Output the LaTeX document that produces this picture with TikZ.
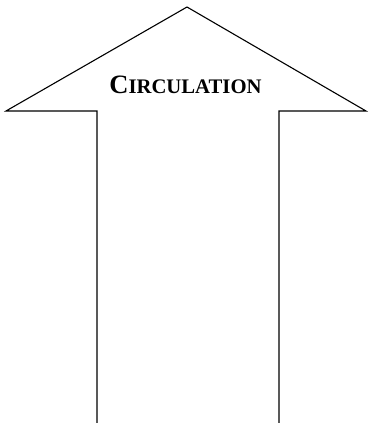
\documentclass[tikz,border=0pt]{standalone}
\usepackage{fontspec}
\setmainfont{Liberation Serif}
\usetikzlibrary{positioning}

\begin{document}
\begin{tikzpicture}[x=1pt,y=-1pt]
                \useasboundingbox (0,0) rectangle (369,423);
                \draw[line width=1.1pt] (97,423) -- (97,111) -- (6,111) -- (187,7) -- (366,111) -- (279,111) -- (279,423);
                \node[font=\bfseries\fontsize{26.5}{30}\selectfont, anchor=base, inner sep=0pt] (titre) at (185.5,93) {C\fontsize{20.7}{24}\selectfont IRCULATION};
            \end{tikzpicture}
\end{document}
